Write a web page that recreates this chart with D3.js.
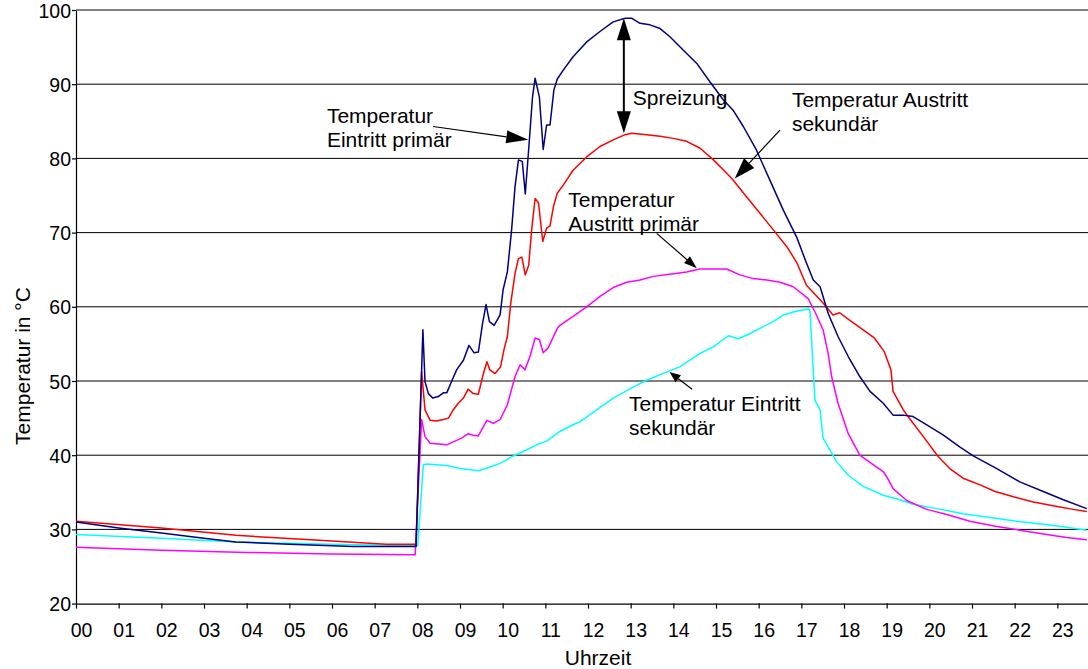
<!DOCTYPE html>
<html>
<head>
<meta charset="utf-8">
<script src="https://cdn.jsdelivr.net/npm/d3@7"></script>
<style>
  body { margin: 0; background: #fff; }
  text { font-family: "Liberation Sans", Arial, sans-serif; fill: #000; }
</style>
</head>
<body>
<div id="viz1"></div>
<script>
// stunden-labels und y-ticks
var hourLabels = ["00","01","02","03","04","05","06","07","08","09","10","11",
                  "12","13","14","15","16","17","18","19","20","21","22","23"];
var tempTicks = [20,30,40,50,60,70,80,90,100];

// [uhrzeit in h, temperatur in °C]
var eintrittPrimaer = [
  [0,31.0],[1,30.2],[2,29.5],[3,28.8],[3.75,28.3],[5,28.0],[6.5,27.7],[7.97,27.7],
  [8.13,56.9],[8.18,49.9],[8.26,48.3],[8.36,47.7],[8.49,47.9],[8.61,48.4],[8.69,48.4],
  [8.80,49.9],[8.92,51.5],[9.08,52.8],[9.21,54.8],[9.33,53.8],[9.43,53.9],[9.53,57.8],
  [9.61,60.3],[9.69,58.0],[9.80,57.5],[9.94,58.9],[10.01,62.3],[10.11,64.7],[10.21,70.4],
  [10.29,76.2],[10.37,79.8],[10.46,79.6],[10.53,75.2],[10.62,82.0],[10.70,88.3],[10.76,90.8],
  [10.86,88.3],[10.95,81.2],[11.03,84.5],[11.11,84.5],[11.20,89.2],[11.28,90.7],[11.42,91.9],
  [11.65,93.7],[11.97,95.7],[12.28,97.1],[12.59,98.4],[12.87,98.9],[13.02,98.9],[13.22,98.2],
  [13.45,98.0],[13.69,97.5],[13.92,96.4],[14.23,94.6],[14.55,92.8],[14.86,90.3],[15.17,87.9],
  [15.40,86.5],[15.64,84.3],[15.95,81.1],[16.26,77.1],[16.58,73.0],[16.89,69.4],[17.12,65.9],
  [17.28,63.6],[17.44,62.7],[17.63,59.1],[17.86,56.0],[18.10,53.3],[18.37,50.6],[18.61,48.6],
  [18.92,47.0],[19.15,45.4],[19.39,45.4],[19.62,45.2],[19.94,44.1],[20.33,42.7],[20.72,41.1],
  [21.03,39.9],[21.58,38.2],[22.12,36.4],[22.67,35.1],[23.14,34.0],[23.69,32.8]
];
var austrittSekundaer = [
  [0,31.1],[2,30.2],[3.75,29.2],[5.5,28.6],[7.27,28.0],[7.97,28.0],
  [8.10,51.3],[8.18,46.1],[8.30,44.7],[8.45,44.6],[8.61,44.8],[8.73,45.0],[8.84,46.1],
  [8.96,47.0],[9.08,47.7],[9.19,48.9],[9.31,48.3],[9.43,48.2],[9.53,50.6],[9.63,52.6],
  [9.70,51.5],[9.82,51.0],[9.95,51.9],[10.03,54.2],[10.11,56.0],[10.19,60.5],[10.29,64.5],
  [10.37,66.5],[10.45,66.7],[10.53,64.3],[10.61,65.6],[10.68,70.4],[10.76,74.6],[10.84,74.0],
  [10.94,68.8],[11.03,70.6],[11.11,70.9],[11.19,73.5],[11.28,75.3],[11.42,76.4],[11.65,78.4],
  [11.97,80.2],[12.28,81.6],[12.59,82.5],[12.87,83.2],[13.02,83.4],[13.37,83.2],[13.69,83.0],
  [14.00,82.7],[14.31,82.3],[14.62,81.4],[14.94,79.8],[15.25,78.0],[15.40,77.1],[15.72,74.8],
  [16.03,72.6],[16.34,70.4],[16.66,68.1],[16.89,66.0],[17.12,62.9],[17.51,60.5],[17.74,58.9],
  [17.90,59.2],[18.08,58.4],[18.40,57.1],[18.71,55.8],[18.94,54.0],[19.10,51.5],[19.15,48.6],
  [19.39,46.1],[19.62,44.3],[19.86,42.5],[20.21,39.8],[20.48,38.2],[20.79,36.9],[21.19,36.0],
  [21.54,35.1],[21.97,34.4],[22.44,33.7],[22.90,33.2],[23.37,32.7],[23.69,32.4]
];
var austrittPrimaer = [
  [0,27.6],[2,27.2],[4,26.9],[6,26.7],[7.95,26.6],
  [8.10,44.8],[8.18,42.5],[8.30,41.6],[8.69,41.4],[8.84,41.8],[9.04,42.3],[9.19,42.9],
  [9.31,42.7],[9.43,42.6],[9.63,44.7],[9.78,44.3],[9.94,44.8],[10.11,46.8],[10.29,50.6],
  [10.41,52.2],[10.52,51.5],[10.64,53.3],[10.76,55.8],[10.86,55.6],[10.95,53.8],[11.07,54.5],
  [11.28,57.1],[11.34,57.5],[11.65,58.7],[11.97,60.0],[12.28,61.4],[12.59,62.6],[12.91,63.3],
  [13.22,63.6],[13.53,64.1],[13.92,64.4],[14.31,64.7],[14.62,65.1],[15.25,65.1],[15.56,64.3],
  [15.87,63.8],[16.19,63.6],[16.50,63.3],[16.81,62.7],[17.16,61.1],[17.32,59.3],[17.51,56.9],
  [17.63,53.7],[17.71,50.6],[17.86,47.0],[18.10,42.9],[18.37,40.0],[18.69,38.7],[18.92,37.8],
  [19.00,37.1],[19.15,35.5],[19.47,33.9],[19.94,32.7],[20.41,32.0],[20.95,31.1],[21.58,30.4],
  [22.12,29.9],[22.75,29.3],[23.22,28.9],[23.69,28.6]
];
var eintrittSekundaer = [
  [0,29.3],[2,28.8],[3.75,28.3],[6,28.0],[8.01,27.8],
  [8.14,38.7],[8.22,38.8],[8.69,38.6],[9.00,38.2],[9.43,37.9],[9.70,38.4],[9.94,38.9],
  [10.25,39.9],[10.48,40.5],[10.80,41.4],[11.03,41.9],[11.34,43.2],[11.65,44.1],[11.81,44.5],
  [12.20,46.1],[12.59,47.7],[13.00,49.0],[13.37,50.1],[13.75,51.0],[14.15,51.9],[14.62,53.7],
  [14.94,54.6],[15.29,56.1],[15.52,55.7],[15.80,56.4],[16.03,57.1],[16.34,58.0],[16.58,58.9],
  [16.81,59.3],[16.97,59.5],[17.16,59.7],[17.20,59.6],[17.32,47.4],[17.44,46.1],[17.51,42.3],
  [17.83,39.1],[18.10,37.3],[18.45,35.8],[18.92,34.6],[19.31,34.0],[19.62,33.4],[20.17,32.8],
  [20.79,32.1],[21.42,31.6],[22.05,31.1],[22.67,30.7],[23.22,30.3],[23.69,29.9]
];

var series = [
  {name: "Temperatur Eintritt sekundär", data: eintrittSekundaer, color: "#00ffff"},
  {name: "Temperatur Austritt primär", data: austrittPrimaer, color: "#ff00ff"},
  {name: "Temperatur Austritt sekundär", data: austrittSekundaer, color: "#ff0000"},
  {name: "Temperatur Eintritt primär", data: eintrittPrimaer, color: "#000080"}
];

// beschriftungen: text-anker (h, °C), pfeil von (h, °C) nach (h, °C)
var labels = [
  {lines: ["Temperatur", "Eintritt primär"], at: [5.88, 84.8], from: [8.37, 84.3], to: [10.60, 82.5], head: [22, 13]},
  {lines: ["Temperatur Austritt", "sekundär"], at: [16.78, 86.9], from: [16.50, 83.8], to: [15.44, 77.3], head: [21, 14]},
  {lines: ["Temperatur", "Austritt primär"], at: [11.54, 73.5], from: [13.61, 69.9], to: [14.55, 65.2], head: [13, 9]},
  {lines: ["Temperatur Eintritt", "sekundär"], at: [12.96, 46.0], from: [14.44, 48.9], to: [13.91, 51.2], head: [11, 9]}
];
var spread = {text: "Spreizung", at: [13.05, 87.2], hour: 12.84, top: 98.9, bottom: 83.4};

var W = 1088, H = 669;
var margin = {left: 76, top: 10};

var svgContainer = d3.select('#viz1').append("svg")
                       .attr('width', W)
                       .attr('height', H);

var x = d3.scaleLinear().domain([0, 24]).range([76, 1100]);
var y = d3.scaleLinear().domain([20, 100]).range([603.6, 10]);

// gitterlinien
svgContainer.append('g')
  .selectAll('line')
  .data(tempTicks.filter(function(d) { return d > 20; }))
  .enter().append('line')
    .attr('x1', x(0)).attr('x2', x(24))
    .attr('y1', function(d) { return y(d); })
    .attr('y2', function(d) { return y(d); })
    .attr('stroke', '#000')
    .attr('stroke-width', 1);

// achsen
var yAxis = svgContainer.append('g')
  .attr('transform', 'translate(' + x(0) + ',0)')
  .call(d3.axisLeft(y).tickValues(tempTicks).tickSize(4).tickSizeOuter(0).tickPadding(1));
yAxis.selectAll('text').style('font-size', '19.5px').attr('dy', '0.36em');

var xAxis = svgContainer.append('g')
  .attr('transform', 'translate(0,' + y(20) + ')')
  .call(d3.axisBottom(x).tickValues(d3.range(0, 24)).tickSize(5).tickSizeOuter(0)
          .tickFormat(function(d) { return hourLabels[d]; }));
xAxis.selectAll('text').style('font-size', '19.5px')
  .attr('x', 5).attr('y', 33.5).attr('dy', null);
svgContainer.selectAll('.domain').attr('stroke', '#000').attr('stroke-width', 1.2);
svgContainer.selectAll('.tick line').attr('stroke', '#000').attr('stroke-width', 1.2);

// kurven
var curveLine = d3.line()
                  .x(function(d) { return x(d[0]); })
                  .y(function(d) { return y(d[1]); });

svgContainer.append('g')
  .selectAll('path')
  .data(series)
  .enter().append('path')
    .attr('d', function(d) { return curveLine(d.data); })
    .attr('fill', 'none')
    .attr('stroke', function(d) { return d.color; })
    .attr('stroke-width', 1.5)
    .attr('stroke-linejoin', 'round');

// pfeilspitze als dreieck
var arrowHead = function(x1, y1, x2, y2, len, wid) {
  var a = Math.atan2(y2 - y1, x2 - x1);
  var bx = x2 - len * Math.cos(a), by = y2 - len * Math.sin(a);
  var px = Math.sin(a) * wid / 2, py = -Math.cos(a) * wid / 2;
  return [[x2, y2], [bx + px, by + py], [bx - px, by - py]];
};

var ann = svgContainer.append('g');
labels.forEach(function(l) {
  var x1 = x(l.from[0]), y1 = y(l.from[1]), x2 = x(l.to[0]), y2 = y(l.to[1]);
  var pts = arrowHead(x1, y1, x2, y2, l.head[0], l.head[1]);
  ann.append('line')
    .attr('x1', x1).attr('y1', y1)
    .attr('x2', (pts[1][0] + pts[2][0]) / 2).attr('y2', (pts[1][1] + pts[2][1]) / 2)
    .attr('stroke', '#000').attr('stroke-width', 1.2);
  ann.append('polygon').attr('points', pts.join(' ')).attr('fill', '#000');
  var t = ann.append('text')
    .attr('x', x(l.at[0])).attr('y', y(l.at[1]))
    .style('font-size', '21px');
  l.lines.forEach(function(s, i) {
    t.append('tspan').attr('x', x(l.at[0])).attr('dy', i === 0 ? 0 : 24).text(s);
  });
});

// spreizung: doppelpfeil zwischen den maxima
var sx = x(spread.hour), sTop = y(spread.top), sBot = y(spread.bottom);
var headTop = arrowHead(sx, sBot, sx, sTop, 22, 14);
var headBot = arrowHead(sx, sTop, sx, sBot, 22, 14);
ann.append('line')
  .attr('x1', sx).attr('x2', sx).attr('y1', sTop + 20).attr('y2', sBot - 20)
  .attr('stroke', '#000').attr('stroke-width', 2);
ann.append('polygon').attr('points', headTop.join(' ')).attr('fill', '#000');
ann.append('polygon').attr('points', headBot.join(' ')).attr('fill', '#000');
ann.append('text')
  .attr('x', x(spread.at[0])).attr('y', y(spread.at[1]))
  .style('font-size', '21px')
  .text(spread.text);

// achsentitel
svgContainer.append('text')
  .attr('transform', 'translate(29.5,366) rotate(-90)')
  .attr('text-anchor', 'middle')
  .style('font-size', '21px')
  .text('Temperatur in °C');
svgContainer.append('text')
  .attr('x', 598).attr('y', 665)
  .attr('text-anchor', 'middle')
  .style('font-size', '21px')
  .text('Uhrzeit');
</script>
</body>
</html>
